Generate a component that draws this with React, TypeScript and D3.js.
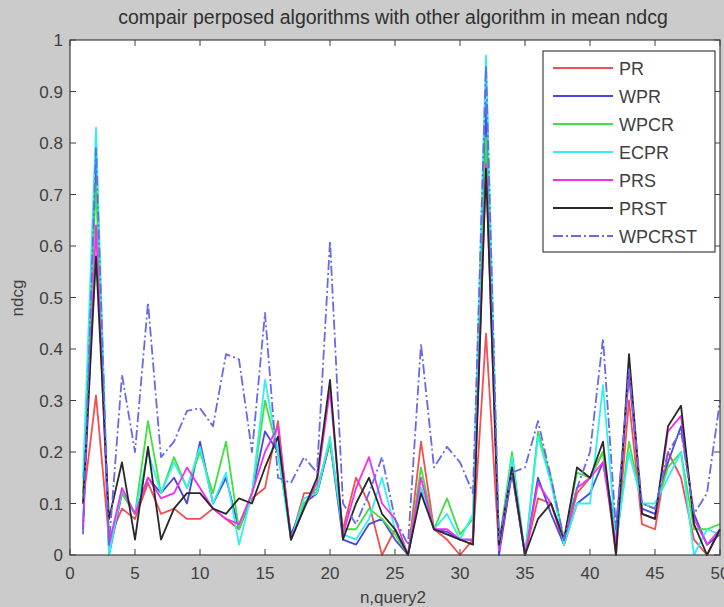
import React from "react";
import * as d3 from "d3";

const queries = d3.range(1, 51);
const xTicks = [0, 5, 10, 15, 20, 25, 30, 35, 40, 45, 50];
const yTicks = [0, 0.1, 0.2, 0.3, 0.4, 0.5, 0.6, 0.7, 0.8, 0.9, 1];
const yTickLabels = ["0", "0.1", "0.2", "0.3", "0.4", "0.5", "0.6", "0.7", "0.8", "0.9", "1"];

const PR = [0.1, 0.31, 0.03, 0.09, 0.07, 0.14, 0.08, 0.09, 0.07, 0.07, 0.09, 0.07, 0.05, 0.11, 0.13, 0.26, 0.03, 0.12, 0.12, 0.22, 0.05, 0.15, 0.1, 0.0, 0.05, 0.0, 0.22, 0.05, 0.03, 0.0, 0.03, 0.43, 0.01, 0.16, 0.0, 0.11, 0.1, 0.02, 0.12, 0.15, 0.2, 0.0, 0.3, 0.06, 0.05, 0.2, 0.15, 0.03, 0.0, 0.05];
const WPR = [0.05, 0.78, 0.0, 0.12, 0.08, 0.15, 0.12, 0.15, 0.1, 0.22, 0.1, 0.15, 0.05, 0.12, 0.24, 0.2, 0.04, 0.1, 0.12, 0.22, 0.03, 0.02, 0.06, 0.07, 0.03, 0.0, 0.13, 0.05, 0.045, 0.03, 0.03, 0.88, 0.0, 0.16, 0.0, 0.15, 0.08, 0.02, 0.1, 0.12, 0.18, 0.05, 0.35, 0.09, 0.08, 0.18, 0.25, 0.08, 0.02, 0.04];
const WPCR = [0.12, 0.72, 0.02, 0.12, 0.08, 0.26, 0.12, 0.19, 0.13, 0.2, 0.12, 0.22, 0.05, 0.12, 0.3, 0.2, 0.03, 0.1, 0.13, 0.22, 0.05, 0.05, 0.09, 0.07, 0.04, 0.0, 0.17, 0.05, 0.11, 0.04, 0.07, 0.81, 0.02, 0.2, 0.0, 0.24, 0.15, 0.03, 0.16, 0.15, 0.2, 0.02, 0.22, 0.1, 0.09, 0.17, 0.2, 0.05, 0.05, 0.06];
const ECPR = [0.15, 0.83, 0.0, 0.13, 0.08, 0.2, 0.12, 0.18, 0.13, 0.21, 0.1, 0.16, 0.02, 0.12, 0.34, 0.2, 0.03, 0.11, 0.12, 0.23, 0.04, 0.03, 0.07, 0.15, 0.05, 0.0, 0.13, 0.05, 0.08, 0.03, 0.08, 0.97, 0.01, 0.19, 0.0, 0.23, 0.14, 0.02, 0.1, 0.1, 0.33, 0.03, 0.2, 0.1, 0.1, 0.15, 0.2, 0.0, 0.05, 0.04];
const PRS = [0.05, 0.64, 0.02, 0.13, 0.08, 0.15, 0.11, 0.12, 0.17, 0.13, 0.09, 0.07, 0.06, 0.12, 0.2, 0.25, 0.03, 0.09, 0.14, 0.32, 0.04, 0.13, 0.19, 0.1, 0.07, 0.0, 0.15, 0.05, 0.05, 0.03, 0.03, 0.76, 0.01, 0.17, 0.0, 0.14, 0.1, 0.03, 0.13, 0.15, 0.18, 0.02, 0.36, 0.08, 0.07, 0.24, 0.27, 0.07, 0.02, 0.05];
const PRST = [0.1, 0.58, 0.07, 0.18, 0.03, 0.21, 0.03, 0.09, 0.12, 0.12, 0.09, 0.08, 0.11, 0.1, 0.17, 0.23, 0.03, 0.09, 0.15, 0.34, 0.03, 0.1, 0.15, 0.08, 0.05, 0.0, 0.12, 0.05, 0.04, 0.03, 0.02, 0.75, 0.02, 0.17, 0.0, 0.07, 0.1, 0.03, 0.17, 0.15, 0.22, 0.0, 0.39, 0.08, 0.07, 0.25, 0.29, 0.06, 0.0, 0.05];
const WPCRST = [0.04, 0.79, 0.02, 0.35, 0.2, 0.49, 0.19, 0.22, 0.28, 0.285, 0.25, 0.39, 0.38, 0.2, 0.47, 0.15, 0.14, 0.19, 0.16, 0.61, 0.1, 0.06, 0.12, 0.19, 0.07, 0.02, 0.41, 0.17, 0.21, 0.18, 0.12, 0.95, 0.03, 0.16, 0.17, 0.26, 0.15, 0.03, 0.13, 0.2, 0.42, 0.05, 0.36, 0.1, 0.09, 0.2, 0.24, 0.08, 0.12, 0.3];

const seriesNames = ["PR", "WPR", "WPCR", "ECPR", "PRS", "PRST", "WPCRST"];
const seriesValues = [PR, WPR, WPCR, ECPR, PRS, PRST, WPCRST];
const seriesColors = ["#f05050", "#4848e0", "#40e040", "#30f0f0", "#f030f0", "#282828", "#6868e8"];
const seriesDash = [null, null, null, null, null, null, "10,3,2,3"];

const W = 724;
const H = 607;
const left = 70;
const right = 720;
const top = 40;
const bottom = 555;
const font = "'Liberation Sans', Arial, sans-serif";

export default function App() {
  const x = d3.scaleLinear().domain([0, 50]).range([left, right]);
  const y = d3.scaleLinear().domain([0, 1]).range([bottom, top]);
  const line = d3
    .line<number>()
    .x((_, i) => x(queries[i]))
    .y((v) => y(v));

  const legendX = 543;
  const legendY = 51;
  const legendW = 172;
  const legendH = 201;
  const rowH = 28;

  return (
    <svg
      width={W}
      height={H}
      style={{ position: "absolute", left: 0, top: 0, display: "block" }}
      fontFamily={font}
    >
      <rect x={0} y={0} width={W} height={H} fill="#cbcbcb" />
      <defs>
        <clipPath id="plotclip">
          <rect x={left} y={top - 2} width={right - left + 4} height={bottom - top + 3} />
        </clipPath>
      </defs>
      <rect x={left} y={top} width={right - left} height={bottom - top} fill="#ffffff" />

      <text x={393} y={24} textAnchor="middle" fontSize={19.5} fill="#303030">
        compair perposed algorithms with other algorithm in mean ndcg
      </text>

      <g clipPath="url(#plotclip)">
        {seriesValues.map((vals, k) => (
          <path
            key={seriesNames[k]}
            d={line(vals) || ""}
            fill="none"
            stroke={seriesColors[k]}
            strokeWidth={1.8}
            strokeDasharray={seriesDash[k] || undefined}
            strokeLinejoin="round"
          />
        ))}
      </g>

      {/* axes box */}
      <rect x={left} y={top} width={right - left} height={bottom - top} fill="none" stroke="#404040" strokeWidth={1.2} />

      {/* x ticks */}
      {xTicks.map((t) => (
        <g key={"xt" + t}>
          <line x1={x(t)} x2={x(t)} y1={bottom} y2={bottom - 6} stroke="#404040" />
          <line x1={x(t)} x2={x(t)} y1={top} y2={top + 6} stroke="#404040" />
          <text x={x(t)} y={579} textAnchor="middle" fontSize={17} fill="#404040">
            {t}
          </text>
        </g>
      ))}
      {/* y ticks */}
      {yTicks.map((t, i) => (
        <g key={"yt" + t}>
          <line x1={left} x2={left + 6} y1={y(t)} y2={y(t)} stroke="#404040" />
          <line x1={right} x2={right - 6} y1={y(t)} y2={y(t)} stroke="#404040" />
          <text x={63} y={y(t) + 6} textAnchor="end" fontSize={17} fill="#404040">
            {yTickLabels[i]}
          </text>
        </g>
      ))}

      <text x={393} y={603} textAnchor="middle" fontSize={17} fill="#404040">
        n,query2
      </text>
      <text
        transform={`translate(23,298) rotate(-90)`}
        textAnchor="middle"
        fontSize={17}
        fill="#404040"
      >
        ndcg
      </text>

      {/* legend */}
      <rect x={legendX} y={legendY} width={legendW} height={legendH} fill="#ffffff" stroke="#404040" strokeWidth={1.2} />
      {seriesNames.map((name, k) => {
        const ry = legendY + 17 + k * rowH;
        return (
          <g key={"lg" + name}>
            <line
              x1={legendX + 10}
              x2={legendX + 70}
              y1={ry}
              y2={ry}
              stroke={seriesColors[k]}
              strokeWidth={1.8}
              strokeDasharray={seriesDash[k] || undefined}
            />
            <text x={legendX + 76} y={ry + 6.5} fontSize={18} fill="#404040">
              {name}
            </text>
          </g>
        );
      })}
    </svg>
  );
}
